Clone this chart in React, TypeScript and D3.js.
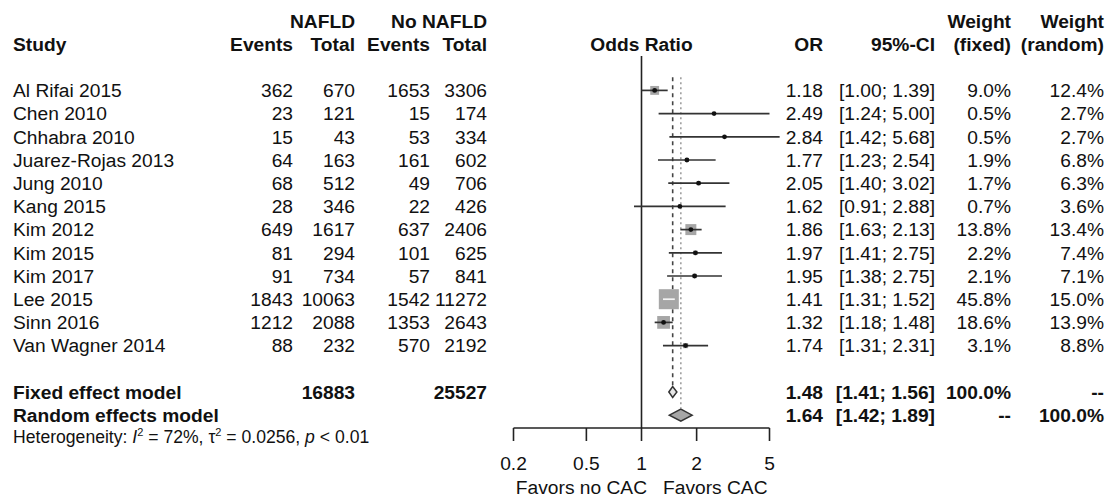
import React from "react";
import * as d3 from "d3";

const studies = ["Al Rifai 2015", "Chen 2010", "Chhabra 2010", "Juarez-Rojas 2013", "Jung 2010", "Kang 2015", "Kim 2012", "Kim 2015", "Kim 2017", "Lee 2015", "Sinn 2016", "Van Wagner 2014"];
const eventsNafld = [362, 23, 15, 64, 68, 28, 649, 81, 91, 1843, 1212, 88];
const totalNafld = [670, 121, 43, 163, 512, 346, 1617, 294, 734, 10063, 2088, 232];
const eventsNo = [1653, 15, 53, 161, 49, 22, 637, 101, 57, 1542, 1353, 570];
const totalNo = [3306, 174, 334, 602, 706, 426, 2406, 625, 841, 11272, 2643, 2192];
const oddsRatio = [1.18, 2.49, 2.84, 1.77, 2.05, 1.62, 1.86, 1.97, 1.95, 1.41, 1.32, 1.74];
const ciLower = [1.0, 1.24, 1.42, 1.23, 1.4, 0.91, 1.63, 1.41, 1.38, 1.31, 1.18, 1.31];
const ciUpper = [1.39, 5.0, 5.68, 2.54, 3.02, 2.88, 2.13, 2.75, 2.75, 1.52, 1.48, 2.31];
const weightFixed = [9.0, 0.5, 0.5, 1.9, 1.7, 0.7, 13.8, 2.2, 2.1, 45.8, 18.6, 3.1];
const weightRandom = [12.4, 2.7, 2.7, 6.8, 6.3, 3.6, 13.4, 7.4, 7.1, 15.0, 13.9, 8.8];

const fixedModel = { label: "Fixed effect model", or: 1.48, lo: 1.41, hi: 1.56, n1: 16883, n2: 25527, wf: "100.0%", wr: "--" };
const randomModel = { label: "Random effects model", or: 1.64, lo: 1.42, hi: 1.89, wf: "--", wr: "100.0%" };
const axisTicks = [0.2, 0.5, 1, 2, 5];

const FONT = "'Liberation Sans', Arial, Helvetica, sans-serif";
const FS = 19.2;

export default function App() {
  const x = d3.scaleLog().domain([0.2, 5]).range([513.5, 769.5]);
  const row = d3.scaleLinear().domain([0, 1]).range([44, 67.2]);
  const sq = d3.scaleSqrt().domain([0, 45.8]).range([0, 20]);
  const fmt2 = d3.format(".2f");
  const fmt1 = (v: number) => d3.format(".1f")(v) + "%";

  const col = { study: 13, ev1: 293, tot1: 355, ev2: 430, tot2: 487, or: 823, ci: 935, wf: 1011, wr: 1104 };

  const txt = (props: any, s: any) => (
    <text fontFamily={FONT} fontSize={FS} fill="#111" dy="0.35em" {...props}>{s}</text>
  );

  const yFixed = row(15);
  const yRandom = row(16);
  const diamond = (m: any, y: number, h: number) =>
    `M${x(m.lo)},${y} L${x(m.or)},${y - h} L${x(m.hi)},${y} L${x(m.or)},${y + h} Z`;

  return (
    <svg width={1109} height={500} style={{ position: "absolute", left: 0, top: 0, background: "#fff" }}>
      {/* headers */}
      {txt({ x: col.tot1, y: row(-1), textAnchor: "end", fontWeight: "bold" }, "NAFLD")}
      {txt({ x: col.tot2, y: row(-1), textAnchor: "end", fontWeight: "bold" }, "No NAFLD")}
      {txt({ x: col.study, y: row(0), fontWeight: "bold" }, "Study")}
      {txt({ x: col.ev1, y: row(0), textAnchor: "end", fontWeight: "bold" }, "Events")}
      {txt({ x: col.tot1, y: row(0), textAnchor: "end", fontWeight: "bold" }, "Total")}
      {txt({ x: col.ev2, y: row(0), textAnchor: "end", fontWeight: "bold" }, "Events")}
      {txt({ x: col.tot2, y: row(0), textAnchor: "end", fontWeight: "bold" }, "Total")}
      {txt({ x: x(1), y: row(0), textAnchor: "middle", fontWeight: "bold" }, "Odds Ratio")}
      {txt({ x: col.or, y: row(0), textAnchor: "end", fontWeight: "bold" }, "OR")}
      {txt({ x: col.ci, y: row(0), textAnchor: "end", fontWeight: "bold" }, "95%-CI")}
      {txt({ x: col.wf, y: row(-1), textAnchor: "end", fontWeight: "bold" }, "Weight")}
      {txt({ x: col.wf, y: row(0), textAnchor: "end", fontWeight: "bold" }, "(fixed)")}
      {txt({ x: col.wr, y: row(-1), textAnchor: "end", fontWeight: "bold" }, "Weight")}
      {txt({ x: col.wr, y: row(0), textAnchor: "end", fontWeight: "bold" }, "(random)")}

      {/* reference lines */}
      <line x1={x(1)} x2={x(1)} y1={row(0) + 12} y2={428} stroke="#222" strokeWidth={1.6} />
      <line x1={x(fixedModel.or)} x2={x(fixedModel.or)} y1={row(1) + 10} y2={yFixed - 6} stroke="#444" strokeWidth={1.6} strokeDasharray="4,4" />
      <line x1={x(randomModel.or)} x2={x(randomModel.or)} y1={row(1) + 10} y2={yRandom - 7} stroke="#999" strokeWidth={1.5} strokeDasharray="2,3" />

      {/* study rows */}
      {studies.map((s, i) => {
        const y = row(i + 2);
        const side = sq(weightFixed[i]);
        const xl = x(ciLower[i]);
        const xu = x(ciUpper[i]);
        const xc = x(oddsRatio[i]);
        const inside = xl >= xc - side / 2 && xu <= xc + side / 2;
        return (
          <g key={s}>
            {txt({ x: col.study, y }, s)}
            {txt({ x: col.ev1, y, textAnchor: "end" }, eventsNafld[i])}
            {txt({ x: col.tot1, y, textAnchor: "end" }, totalNafld[i])}
            {txt({ x: col.ev2, y, textAnchor: "end" }, eventsNo[i])}
            {txt({ x: col.tot2, y, textAnchor: "end" }, totalNo[i])}
            {txt({ x: col.or, y, textAnchor: "end" }, fmt2(oddsRatio[i]))}
            {txt({ x: col.ci, y, textAnchor: "end" }, `[${fmt2(ciLower[i])}; ${fmt2(ciUpper[i])}]`)}
            {txt({ x: col.wf, y, textAnchor: "end" }, fmt1(weightFixed[i]))}
            {txt({ x: col.wr, y, textAnchor: "end" }, fmt1(weightRandom[i]))}
            <rect x={xc - side / 2} y={y - side / 2} width={side} height={side} fill="#a6a6a6" />
            <line x1={xl} x2={xu} y1={y} y2={y} stroke={inside ? "#f4f4f4" : "#333"} strokeWidth={1.7} />
            {!inside && <circle cx={xc} cy={y} r={2.4} fill="#111" />}
          </g>
        );
      })}

      {/* summary rows */}
      {txt({ x: col.study, y: yFixed, fontWeight: "bold" }, fixedModel.label)}
      {txt({ x: col.tot1, y: yFixed, textAnchor: "end", fontWeight: "bold" }, fixedModel.n1)}
      {txt({ x: col.tot2, y: yFixed, textAnchor: "end", fontWeight: "bold" }, fixedModel.n2)}
      {txt({ x: col.or, y: yFixed, textAnchor: "end", fontWeight: "bold" }, fmt2(fixedModel.or))}
      {txt({ x: col.ci, y: yFixed, textAnchor: "end", fontWeight: "bold" }, `[${fmt2(fixedModel.lo)}; ${fmt2(fixedModel.hi)}]`)}
      {txt({ x: col.wf, y: yFixed, textAnchor: "end", fontWeight: "bold" }, fixedModel.wf)}
      {txt({ x: col.wr, y: yFixed, textAnchor: "end", fontWeight: "bold" }, fixedModel.wr)}
      <path d={diamond(fixedModel, yFixed, 5.5)} fill="#e6e6e6" stroke="#333" strokeWidth={1.5} />

      {txt({ x: col.study, y: yRandom, fontWeight: "bold" }, randomModel.label)}
      {txt({ x: col.or, y: yRandom, textAnchor: "end", fontWeight: "bold" }, fmt2(randomModel.or))}
      {txt({ x: col.ci, y: yRandom, textAnchor: "end", fontWeight: "bold" }, `[${fmt2(randomModel.lo)}; ${fmt2(randomModel.hi)}]`)}
      {txt({ x: col.wf, y: yRandom, textAnchor: "end", fontWeight: "bold" }, randomModel.wf)}
      {txt({ x: col.wr, y: yRandom, textAnchor: "end", fontWeight: "bold" }, randomModel.wr)}
      <path d={diamond(randomModel, yRandom, 6)} fill="#a6a6a6" stroke="#333" strokeWidth={1.5} />

      {/* heterogeneity */}
      <text fontFamily={FONT} fontSize={17.6} fill="#111" x={col.study} y={437} dy="0.35em">
        Heterogeneity: <tspan fontStyle="italic">I</tspan>
        <tspan dy={-7} fontSize={11}>2</tspan>
        <tspan dy={7}> = 72%, τ</tspan>
        <tspan dy={-7} fontSize={11}>2</tspan>
        <tspan dy={7}> = 0.0256, </tspan>
        <tspan fontStyle="italic">p</tspan> &lt; 0.01
      </text>

      {/* axis */}
      <line x1={x(0.2)} x2={x(5)} y1={428} y2={428} stroke="#222" strokeWidth={1.6} />
      {axisTicks.map((t) => (
        <g key={t}>
          <line x1={x(t)} x2={x(t)} y1={428} y2={441} stroke="#222" strokeWidth={1.6} />
          {txt({ x: x(t), y: 463, textAnchor: "middle" }, String(t))}
        </g>
      ))}
      {txt({ x: 647, y: 487, textAnchor: "end" }, "Favors no CAC")}
      {txt({ x: 663, y: 487 }, "Favors CAC")}
    </svg>
  );
}
